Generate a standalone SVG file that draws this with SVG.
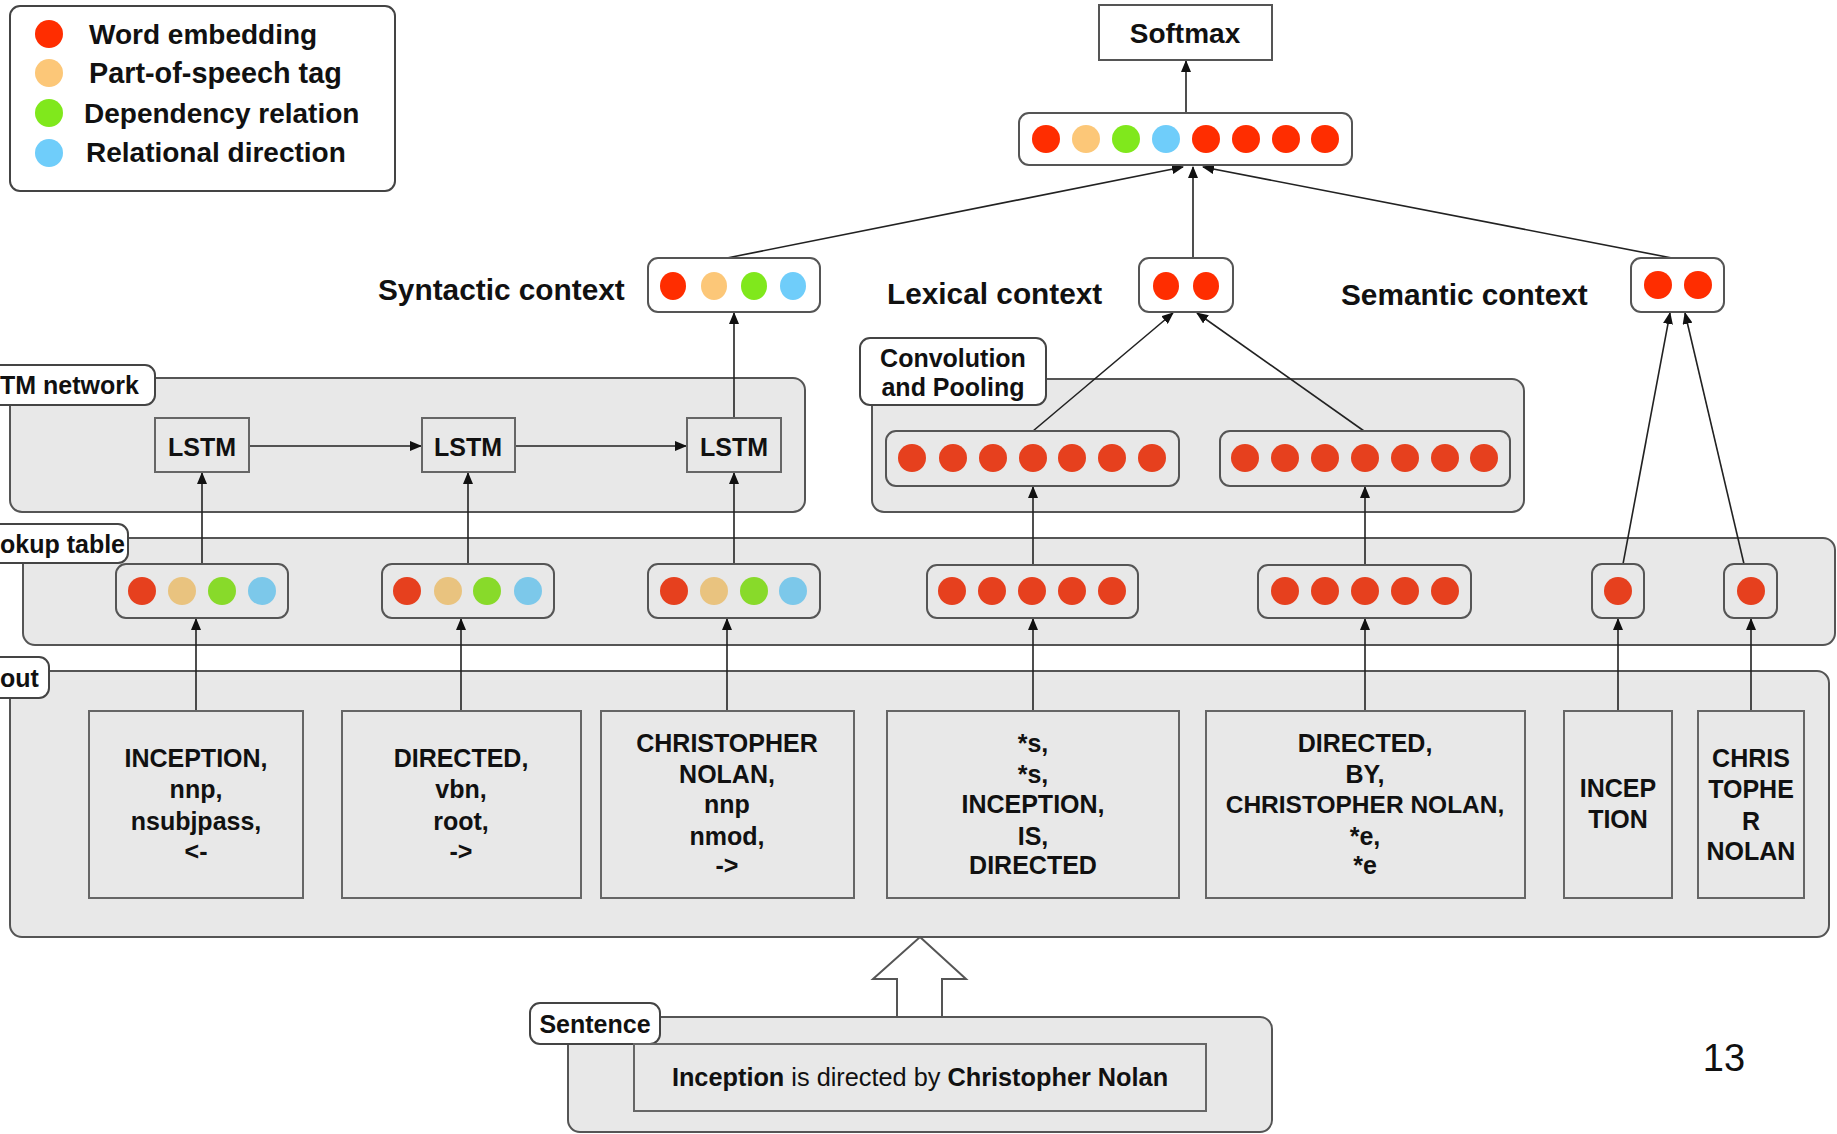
<svg xmlns="http://www.w3.org/2000/svg" width="1837" height="1134" viewBox="0 0 1837 1134">
<style>
text{font-family:"Liberation Sans",Arial,sans-serif;font-weight:bold;fill:#111}
.cont{fill:#e8e8e8;stroke:#555;stroke-width:2}
.lbl{fill:#fff;stroke:#444;stroke-width:2}
.vec{fill:#e8e8e8;stroke:#555;stroke-width:2}
.wvec{fill:#fff;stroke:#555;stroke-width:2}
.box{fill:#e8e8e8;stroke:#666;stroke-width:2}
.wbox{fill:#fff;stroke:#555;stroke-width:2}
.c{text-anchor:middle}
.t25{font-size:25px}
.t28{font-size:28px}
.t29{font-size:29.8px}
.r{fill:#ff2d00}.o{fill:#fcc778}.g{fill:#80e81c}.b{fill:#6fcdfa}
.r2{fill:#e6401e}.o2{fill:#e9c37f}.g2{fill:#88da2a}.b2{fill:#7cc8ea}
.ln{stroke:#222;stroke-width:1.6;fill:none}
.ar{stroke:#222;stroke-width:1.6;fill:none;marker-end:url(#ah)}
</style>
<defs>
<marker id="ah" markerWidth="12" markerHeight="10" refX="11" refY="5" orient="auto" markerUnits="userSpaceOnUse">
<path d="M0,0 L12,5 L0,10 z" fill="#111"/>
</marker>
</defs>
<rect width="1837" height="1134" fill="#fff"/>

<g id="legend">
<rect x="10" y="6" width="385" height="185" rx="10" fill="#fff" stroke="#444" stroke-width="2"/>
<circle cx="49" cy="34" r="14" class="r"/>
<circle cx="49" cy="73" r="14" class="o"/>
<circle cx="49" cy="113" r="14" class="g"/>
<circle cx="49" cy="153" r="14" class="b"/>
<text x="89" y="44" class="t28">Word embedding</text>
<text x="89" y="83" class="t28" style="font-size:28.8px">Part-of-speech tag</text>
<text x="84" y="123" class="t28">Dependency relation</text>
<text x="86" y="162" class="t28">Relational direction</text>
</g>

<g id="containers">
<g id="lstm-network">
<rect x="10" y="378" width="795" height="134" rx="12" class="cont"/>
<rect x="-20" y="365" width="175" height="40" rx="10" class="lbl"/>
<text x="0" y="394" class="t25">TM network</text>
</g>
<g id="conv-pooling">
<rect x="872" y="379" width="652" height="133" rx="12" class="cont"/>
<rect x="860" y="338" width="186" height="67" rx="10" class="lbl"/>
<text x="953" y="367" class="t25 c">Convolution</text>
<text x="953" y="396" class="t25 c">and Pooling</text>
</g>
<g id="lookup-table">
<rect x="23" y="538" width="1812" height="107" rx="12" class="cont"/>
<rect x="-20" y="524" width="148" height="39" rx="10" class="lbl"/>
<text x="0" y="553" class="t25">okup table</text>
</g>
<g id="input">
<rect x="10" y="671" width="1819" height="266" rx="12" class="cont"/>
<rect x="-20" y="657" width="69" height="41" rx="10" class="lbl"/>
<text x="0" y="687" class="t25">out</text>
</g>
<g id="sentence">
<rect x="568" y="1017" width="704" height="115" rx="12" class="cont"/>
<rect x="530" y="1003" width="130" height="41" rx="10" class="lbl"/>
<text x="595" y="1033" class="t25 c">Sentence</text>
<rect x="634" y="1044" width="572" height="67" class="box"/>
<text x="920" y="1086" class="c" style="font-size:25.3px"><tspan>Inception</tspan><tspan font-weight="normal"> is directed by </tspan><tspan>Christopher Nolan</tspan></text>
</g>
</g>

<g id="connectors">
<line x1="1186" y1="113" x2="1186" y2="61" class="ar"/>
<line x1="727" y1="258" x2="1183" y2="167" class="ar"/>
<line x1="1193" y1="258" x2="1193" y2="167" class="ar"/>
<line x1="1672" y1="258" x2="1203" y2="167" class="ar"/>
<line x1="734" y1="418" x2="734" y2="313" class="ar"/>
<line x1="249" y1="446" x2="421" y2="446" class="ar"/>
<line x1="515" y1="446" x2="686" y2="446" class="ar"/>
<line x1="202" y1="564" x2="202" y2="473" class="ar"/>
<line x1="468" y1="564" x2="468" y2="473" class="ar"/>
<line x1="734" y1="564" x2="734" y2="473" class="ar"/>
<line x1="1033" y1="431" x2="1173" y2="313" class="ar"/>
<line x1="1364" y1="431" x2="1197" y2="313" class="ar"/>
<line x1="1033" y1="565" x2="1033" y2="487" class="ar"/>
<line x1="1365" y1="565" x2="1365" y2="487" class="ar"/>
<line x1="1623" y1="564" x2="1670" y2="313" class="ar"/>
<line x1="1744" y1="564" x2="1685" y2="313" class="ar"/>
<line x1="196" y1="711" x2="196" y2="619" class="ar"/>
<line x1="461" y1="711" x2="461" y2="619" class="ar"/>
<line x1="727" y1="711" x2="727" y2="619" class="ar"/>
<line x1="1033" y1="711" x2="1033" y2="619" class="ar"/>
<line x1="1365" y1="711" x2="1365" y2="619" class="ar"/>
<line x1="1618" y1="711" x2="1618" y2="619" class="ar"/>
<line x1="1751" y1="711" x2="1751" y2="619" class="ar"/>
<polygon id="big-arrow" points="920,937 966,979 942,979 942,1017 897,1017 897,979 873,979" fill="#fff" stroke="#555" stroke-width="2"/>
</g>

<g id="softmax">
<rect x="1099" y="5" width="173" height="55" class="wbox"/>
<text x="1185" y="43" class="t28 c">Softmax</text>
</g>

<g id="top-vector">
<rect x="1019" y="113" width="333" height="52" rx="10" class="wvec"/>
<circle cx="1046" cy="139" r="14" class="r"/>
<circle cx="1086" cy="139" r="14" class="o"/>
<circle cx="1126" cy="139" r="14" class="g"/>
<circle cx="1166" cy="139" r="14" class="b"/>
<circle cx="1206" cy="139" r="14" class="r"/>
<circle cx="1246" cy="139" r="14" class="r"/>
<circle cx="1286" cy="139" r="14" class="r"/>
<circle cx="1325" cy="139" r="14" class="r"/>
</g>

<g id="syntactic-context">
<text x="378" y="300" class="t29">Syntactic context</text>
<rect x="648" y="258" width="172" height="54" rx="10" class="wvec"/>
<ellipse cx="673" cy="286" rx="13" ry="14" class="r"/>
<ellipse cx="714" cy="286" rx="13" ry="14" class="o"/>
<ellipse cx="754" cy="286" rx="13" ry="14" class="g"/>
<ellipse cx="793" cy="286" rx="13" ry="14" class="b"/>
</g>

<g id="lexical-context">
<text x="887" y="304" class="t29">Lexical context</text>
<rect x="1139" y="258" width="94" height="54" rx="10" class="wvec"/>
<ellipse cx="1166" cy="286" rx="13" ry="14" class="r"/>
<ellipse cx="1206" cy="286" rx="13" ry="14" class="r"/>
</g>

<g id="semantic-context">
<text x="1341" y="305" class="t29">Semantic context</text>
<rect x="1631" y="258" width="93" height="54" rx="10" class="wvec"/>
<circle cx="1658" cy="285" r="14" class="r"/>
<circle cx="1698" cy="285" r="14" class="r"/>
</g>

<g id="lstm1"><rect x="155" y="418" width="94" height="54" class="box"/><text x="202" y="456" class="t25 c">LSTM</text></g>
<g id="lstm2"><rect x="422" y="418" width="93" height="54" class="box"/><text x="468" y="456" class="t25 c">LSTM</text></g>
<g id="lstm3"><rect x="687" y="418" width="94" height="54" class="box"/><text x="734" y="456" class="t25 c">LSTM</text></g>

<g id="conv-vec1">
<rect x="886" y="431" width="293" height="55" rx="10" class="vec"/>
<circle cx="912" cy="458" r="14" class="r2"/><circle cx="953" cy="458" r="14" class="r2"/><circle cx="993" cy="458" r="14" class="r2"/><circle cx="1033" cy="458" r="14" class="r2"/><circle cx="1072" cy="458" r="14" class="r2"/><circle cx="1112" cy="458" r="14" class="r2"/><circle cx="1152" cy="458" r="14" class="r2"/>
</g>
<g id="conv-vec2">
<rect x="1220" y="431" width="290" height="55" rx="10" class="vec"/>
<circle cx="1245" cy="458" r="14" class="r2"/><circle cx="1285" cy="458" r="14" class="r2"/><circle cx="1325" cy="458" r="14" class="r2"/><circle cx="1365" cy="458" r="14" class="r2"/><circle cx="1405" cy="458" r="14" class="r2"/><circle cx="1445" cy="458" r="14" class="r2"/><circle cx="1484" cy="458" r="14" class="r2"/>
</g>

<g id="lookup1">
<rect x="116" y="564" width="172" height="54" rx="10" class="vec"/>
<circle cx="142" cy="591" r="14" class="r2"/><circle cx="182" cy="591" r="14" class="o2"/><circle cx="222" cy="591" r="14" class="g2"/><circle cx="262" cy="591" r="14" class="b2"/>
</g>
<g id="lookup2">
<rect x="382" y="564" width="172" height="54" rx="10" class="vec"/>
<circle cx="407" cy="591" r="14" class="r2"/><circle cx="448" cy="591" r="14" class="o2"/><circle cx="487" cy="591" r="14" class="g2"/><circle cx="528" cy="591" r="14" class="b2"/>
</g>
<g id="lookup3">
<rect x="648" y="564" width="172" height="54" rx="10" class="vec"/>
<circle cx="674" cy="591" r="14" class="r2"/><circle cx="714" cy="591" r="14" class="o2"/><circle cx="754" cy="591" r="14" class="g2"/><circle cx="793" cy="591" r="14" class="b2"/>
</g>
<g id="lookup4">
<rect x="927" y="565" width="211" height="53" rx="10" class="vec"/>
<circle cx="952" cy="591" r="14" class="r2"/><circle cx="992" cy="591" r="14" class="r2"/><circle cx="1032" cy="591" r="14" class="r2"/><circle cx="1072" cy="591" r="14" class="r2"/><circle cx="1112" cy="591" r="14" class="r2"/>
</g>
<g id="lookup5">
<rect x="1258" y="565" width="213" height="53" rx="10" class="vec"/>
<circle cx="1285" cy="591" r="14" class="r2"/><circle cx="1325" cy="591" r="14" class="r2"/><circle cx="1365" cy="591" r="14" class="r2"/><circle cx="1405" cy="591" r="14" class="r2"/><circle cx="1445" cy="591" r="14" class="r2"/>
</g>
<g id="lookup6">
<rect x="1592" y="564" width="52" height="54" rx="10" class="vec"/>
<circle cx="1618" cy="591" r="14" class="r2"/>
</g>
<g id="lookup7">
<rect x="1724" y="564" width="53" height="54" rx="10" class="vec"/>
<circle cx="1751" cy="591" r="14" class="r2"/>
</g>

<g id="input1">
<rect x="89" y="711" width="214" height="187" class="box"/>
<text class="t25 c"><tspan x="196" y="767">INCEPTION,</tspan><tspan x="196" y="798">nnp,</tspan><tspan x="196" y="830">nsubjpass,</tspan><tspan x="196" y="860">&lt;-</tspan></text>
</g>
<g id="input2">
<rect x="342" y="711" width="239" height="187" class="box"/>
<text class="t25 c"><tspan x="461" y="767">DIRECTED,</tspan><tspan x="461" y="798">vbn,</tspan><tspan x="461" y="830">root,</tspan><tspan x="461" y="860">-&gt;</tspan></text>
</g>
<g id="input3">
<rect x="601" y="711" width="253" height="187" class="box"/>
<text class="t25 c"><tspan x="727" y="752">CHRISTOPHER</tspan><tspan x="727" y="783">NOLAN,</tspan><tspan x="727" y="813">nnp</tspan><tspan x="727" y="845">nmod,</tspan><tspan x="727" y="874">-&gt;</tspan></text>
</g>
<g id="input4">
<rect x="887" y="711" width="292" height="187" class="box"/>
<text class="t25 c"><tspan x="1033" y="752">*s,</tspan><tspan x="1033" y="783">*s,</tspan><tspan x="1033" y="813">INCEPTION,</tspan><tspan x="1033" y="845">IS,</tspan><tspan x="1033" y="874">DIRECTED</tspan></text>
</g>
<g id="input5">
<rect x="1206" y="711" width="319" height="187" class="box"/>
<text class="t25 c"><tspan x="1365" y="752">DIRECTED,</tspan><tspan x="1365" y="783">BY,</tspan><tspan x="1365" y="813" style="font-size:24.5px">CHRISTOPHER NOLAN,</tspan><tspan x="1365" y="845">*e,</tspan><tspan x="1365" y="874">*e</tspan></text>
</g>
<g id="input6">
<rect x="1564" y="711" width="108" height="187" class="box"/>
<text class="t25 c"><tspan x="1618" y="797">INCEP</tspan><tspan x="1618" y="828">TION</tspan></text>
</g>
<g id="input7">
<rect x="1698" y="711" width="106" height="187" class="box"/>
<text class="t25 c"><tspan x="1751" y="767">CHRIS</tspan><tspan x="1751" y="798">TOPHE</tspan><tspan x="1751" y="830">R</tspan><tspan x="1751" y="860">NOLAN</tspan></text>
</g>

<text x="1724" y="1071" class="c" style="font-size:38px;font-weight:normal">13</text>
</svg>
